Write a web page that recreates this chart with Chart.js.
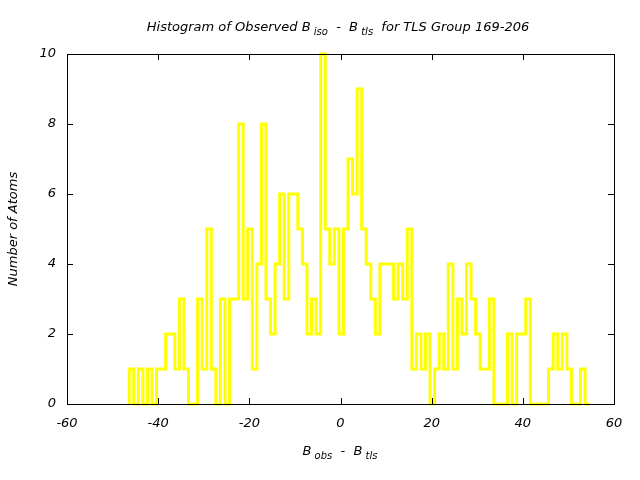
<!DOCTYPE html>
<html>
<head>
<meta charset="utf-8">
<script src="https://cdn.jsdelivr.net/npm/chart.js@4.4.0/dist/chart.umd.min.js"></script>
<style>
  html, body { margin: 0; padding: 0; background: #fff; }
  #wrap { width: 640px; height: 480px; }
</style>
</head>
<body>
<div id="wrap"><canvas id="chart" width="640" height="480"></canvas></div>
<script>
// histogram bins (left edge of first bin, bin width)
const binStart = -46.35;
const binWidth = 1;
const counts = [
  1, 0, 1, 0, 1, 0, 1, 1, 2, 2, 1, 3, 1, 0, 0,
  3, 1, 5, 1, 0, 3, 0, 3, 3, 8, 3, 5, 1, 4, 8, 3, 2, 4,
  6, 3, 6, 6, 5, 4, 2, 3, 2, 10, 5, 4, 5, 2, 5, 7, 6,
  9, 5, 4, 3, 2, 4, 4, 4, 3, 4, 3, 5, 1, 2, 1, 2, 0,
  1, 2, 1, 4, 1, 3, 2, 4, 3, 2, 1, 1, 3, 0, 0, 0, 2,
  0, 2, 2, 3, 0, 0, 0, 0, 1, 2, 1, 2, 1, 0, 0, 1, 0
];
const xTicks = [-60, -40, -20, 0, 20, 40, 60];
const yTicks = [0, 2, 4, 6, 8, 10];

const titleParts = [
  { t: 'Histogram of Observed B' }, { t: ' iso', sub: true },
  { t: '  -  B' }, { t: ' tls', sub: true }, { t: '  for TLS Group 169-206' }
];
const xLabelParts = [
  { t: 'B' }, { t: ' obs', sub: true }, { t: '  -  B' }, { t: ' tls', sub: true }
];

const FONT = '"DejaVu Sans", sans-serif';

// step outline: start at zero, each bin held over its width
const points = [{ x: binStart, y: 0 }];
counts.forEach((c, i) => points.push({ x: binStart + i * binWidth, y: c }));
points.push({ x: binStart + counts.length * binWidth, y: counts[counts.length - 1] });

function drawRich(ctx, parts, cx, y, size) {
  const fontOf = (p) => 'italic ' + (p.sub ? Math.round(size * 0.8) : size) + 'px ' + FONT;
  let total = 0;
  parts.forEach((p) => { ctx.font = fontOf(p); total += ctx.measureText(p.t).width; });
  let x = cx - total / 2;
  ctx.textAlign = 'left';
  ctx.textBaseline = 'alphabetic';
  ctx.fillStyle = '#000';
  parts.forEach((p) => {
    ctx.font = fontOf(p);
    ctx.fillText(p.t, x, p.sub ? y + 4 : y);
    x += ctx.measureText(p.t).width;
  });
}

const framePlugin = {
  id: 'frame',
  afterDraw(chart) {
    const { ctx, chartArea: a, scales } = chart;
    ctx.save();
    ctx.strokeStyle = '#000';
    ctx.lineWidth = 1;
    ctx.strokeRect(a.left + 0.5, a.top + 0.5, a.right - a.left, a.bottom - a.top);
    ctx.beginPath();
    xTicks.forEach((v) => {
      const px = Math.round(scales.x.getPixelForValue(v)) + 0.5;
      ctx.moveTo(px, a.bottom); ctx.lineTo(px, a.bottom - 6);
      ctx.moveTo(px, a.top); ctx.lineTo(px, a.top + 6);
    });
    yTicks.forEach((v) => {
      const py = Math.round(scales.y.getPixelForValue(v)) + 0.5;
      ctx.moveTo(a.left, py); ctx.lineTo(a.left + 6, py);
      ctx.moveTo(a.right, py); ctx.lineTo(a.right - 6, py);
    });
    ctx.stroke();
    drawRich(ctx, titleParts, 338, 31, 13);
    drawRich(ctx, xLabelParts, 340, 455, 13);
    ctx.restore();
  }
};

new Chart(document.getElementById('chart'), {
  type: 'line',
  data: {
    datasets: [{
      data: points,
      stepped: true,
      borderColor: '#ffff00',
      borderWidth: 3,
      pointRadius: 0,
      fill: false,
      clip: false
    }]
  },
  plugins: [framePlugin],
  options: {
    responsive: false,
    animation: false,
    layout: { padding: { top: 54, right: 26, left: 0, bottom: 0 } },
    plugins: { legend: { display: false }, tooltip: { enabled: false }, title: { display: false } },
    scales: {
      x: {
        type: 'linear',
        min: -60,
        max: 60,
        afterBuildTicks: (s) => { s.ticks = xTicks.map((v) => ({ value: v })); },
        afterFit: (s) => { s.height = 76; },
        grid: { display: false, drawTicks: false },
        border: { display: false },
        ticks: { color: '#000', padding: 12, maxRotation: 0, font: { family: FONT, size: 13, style: 'italic' } }
      },
      y: {
        type: 'linear',
        min: 0,
        max: 10,
        afterBuildTicks: (s) => { s.ticks = yTicks.map((v) => ({ value: v })); },
        afterFit: (s) => { s.width = 67; },
        grid: { display: false, drawTicks: false },
        border: { display: false },
        title: {
          display: true,
          text: 'Number of Atoms',
          color: '#000',
          padding: { top: 6, bottom: 0 },
          font: { family: FONT, size: 13, style: 'italic' }
        },
        ticks: { color: '#000', padding: 11, font: { family: FONT, size: 13, style: 'italic' } }
      }
    }
  }
});
</script>
</body>
</html>
